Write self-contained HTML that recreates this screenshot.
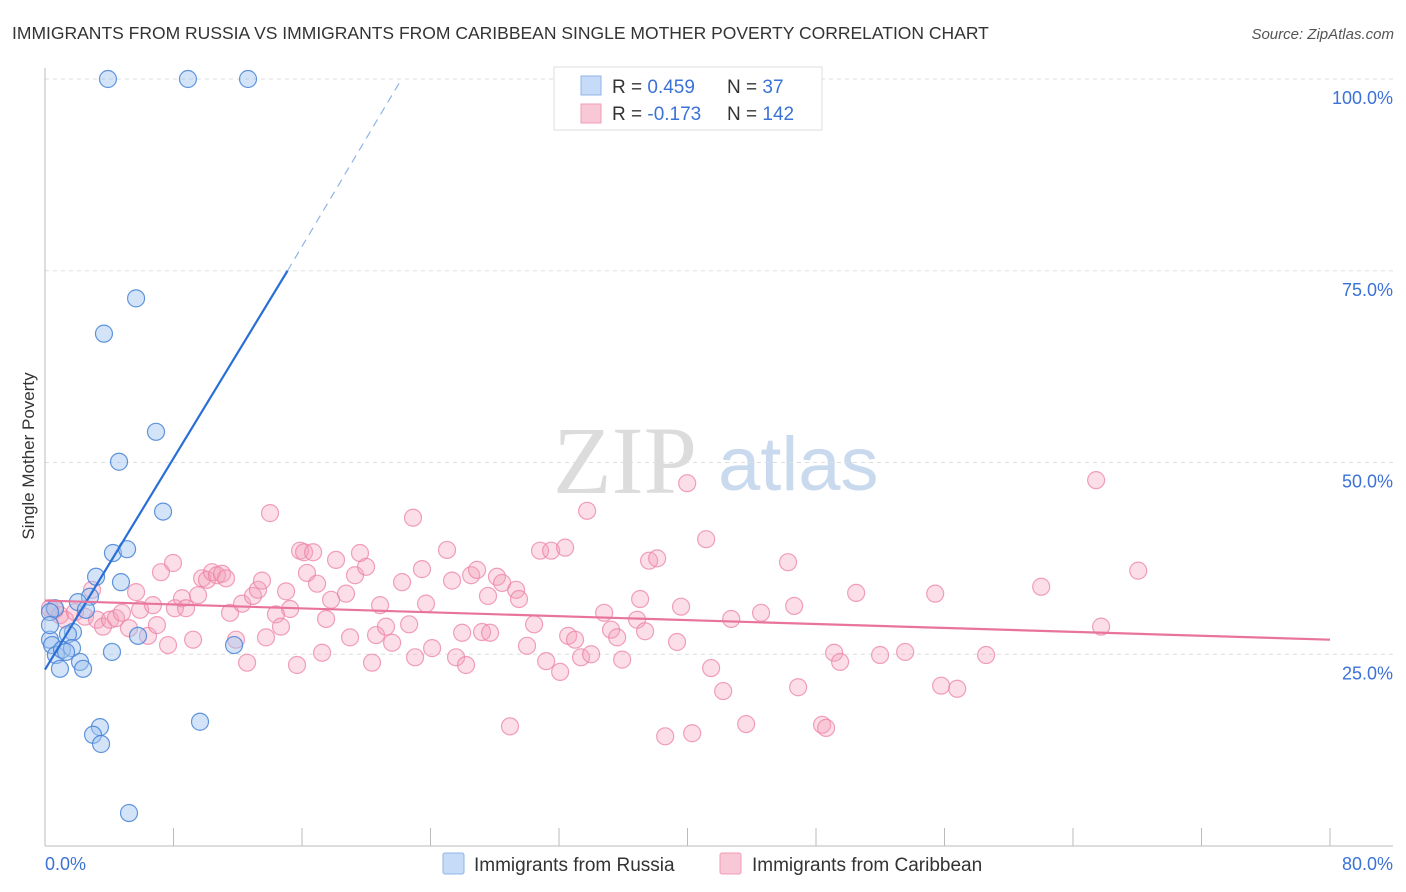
<!DOCTYPE html>
<html><head><meta charset="utf-8">
<style>
body{margin:0;background:#fff;font-family:"Liberation Sans",sans-serif;}
#wrap{position:relative;width:1406px;height:892px;overflow:hidden}
</style></head>
<body>
<div id="wrap">
<svg id="chart" width="1406" height="892" xmlns="http://www.w3.org/2000/svg">
  <text x="12" y="39" font-size="17.5" fill="#333">IMMIGRANTS FROM RUSSIA VS IMMIGRANTS FROM CARIBBEAN SINGLE MOTHER POVERTY CORRELATION CHART</text>
  <text x="1394" y="39" font-size="15" fill="#555" font-style="italic" text-anchor="end">Source: ZipAtlas.com</text>
  <text x="34" y="456" font-size="17" fill="#333" text-anchor="middle" transform="rotate(-90 34 456)">Single Mother Poverty</text>
  <g>
    <text x="553" y="493" font-size="96" font-family="Liberation Serif,serif" fill="#dcdcdc">ZIP</text>
    <text x="718" y="490" font-size="76" fill="#c9d9ee">atlas</text>
  </g>
  <g id="grid"></g>
  <g id="axes"></g>
  <g id="marks"></g>
  <g id="trends"></g>
  <g>
    <rect x="554" y="67" width="268" height="63" fill="#fff" stroke="#ddd"/>
    <rect x="581" y="76" width="20" height="19" fill="#c5dbf7" stroke="#8fb4e8"/>
    <rect x="581" y="104" width="20" height="19" fill="#f9c8d6" stroke="#ef9cb6"/>
    <text x="612" y="93" font-size="19" fill="#333">R = <tspan fill="#3b72d6"> 0.459</tspan></text>
    <text x="727" y="93" font-size="19" fill="#333">N = <tspan fill="#3b72d6">  37</tspan></text>
    <text x="612" y="120" font-size="19" fill="#333">R = <tspan fill="#3b72d6">-0.173</tspan></text>
    <text x="727" y="120" font-size="19" fill="#333">N = <tspan fill="#3b72d6">142</tspan></text>
  </g>
  <g>
    <rect x="443" y="853" width="21" height="21" fill="#c5dbf7" stroke="#8fb4e8" rx="2"/>
    <text x="474" y="871" font-size="19" fill="#333">Immigrants from Russia</text>
    <rect x="720" y="853" width="21" height="21" fill="#f9c8d6" stroke="#ef9cb6" rx="2"/>
    <text x="752" y="871" font-size="19" fill="#333">Immigrants from Caribbean</text>
  </g>
</svg>
</div>
<script>
const russiaX=[3.92,8.90,12.64,5.67,3.67,6.91,4.61,7.35,4.23,5.11,3.18,4.73,2.80,2.05,2.55,0.62,0.31,1.74,1.43,0.31,0.44,0.68,1.06,1.68,1.31,2.18,0.93,2.37,4.17,5.79,11.77,9.65,3.42,2.99,3.49,5.23,0.31];
const russiaY=[100,100,100,71.4,66.8,54.0,50.1,43.6,38.2,38.7,35.1,34.4,32.5,31.8,30.8,31.0,30.5,27.9,27.6,26.9,26.2,24.9,25.6,25.8,25.3,24.0,23.1,23.1,25.3,27.4,26.2,16.2,15.5,14.5,13.3,4.3,28.8];
const caribX=[0.31,0.62,0.93,1.25,1.87,2.49,2.93,3.24,3.61,4.05,4.42,4.79,5.23,5.67,5.92,6.41,6.72,6.97,7.22,7.66,7.97,8.09,8.53,8.78,9.22,9.53,9.78,10.09,10.40,10.71,11.02,11.27,11.52,11.89,12.27,12.58,12.95,13.26,13.51,13.76,14.01,14.38,14.69,15.01,15.26,15.69,15.88,16.13,16.31,16.69,16.94,17.25,17.50,17.81,18.12,18.74,18.99,19.30,19.61,19.99,20.36,20.61,20.86,21.23,21.61,22.23,22.67,22.91,23.04,23.47,23.72,24.10,25.03,25.34,25.59,25.97,26.21,26.53,26.90,27.21,27.58,27.71,28.14,28.46,28.95,29.33,29.51,30.01,30.45,30.82,31.20,31.51,32.07,32.38,32.57,33.00,33.37,33.75,34.00,34.81,35.24,35.62,35.93,36.86,37.05,37.36,37.61,38.11,38.61,39.35,39.60,39.98,40.29,41.16,41.47,42.22,42.72,43.65,44.58,46.26,46.64,46.89,48.38,48.63,49.13,49.50,50.50,51.99,53.55,55.42,55.79,56.79,58.59,62.02,65.44,65.75,68.06];
const caribY=[31.0,30.8,30.1,29.5,30.5,29.9,33.4,29.5,28.6,29.5,29.7,30.4,28.4,33.1,30.8,27.4,31.4,28.8,35.7,26.2,36.9,31.0,32.3,31.0,26.9,32.7,34.9,34.7,35.7,35.3,35.5,34.9,30.4,26.9,31.6,23.9,32.6,33.4,34.6,27.2,43.4,30.2,28.6,33.2,30.9,23.6,38.5,38.3,35.6,38.3,34.2,25.2,29.6,32.1,37.3,32.9,27.2,35.3,38.2,36.4,23.9,27.5,31.4,28.6,26.5,34.4,28.9,42.8,24.6,36.1,31.6,25.8,38.6,34.6,24.6,27.8,23.6,35.3,36.0,27.9,32.6,27.8,35.1,34.3,15.6,33.4,32.2,26.1,28.9,38.5,24.1,38.5,22.7,38.9,27.4,26.9,24.6,43.7,25.0,30.4,28.2,27.2,24.3,29.5,32.2,28.0,37.2,37.5,14.3,26.6,31.2,47.3,14.7,40.0,23.2,20.2,29.6,15.9,30.4,37.0,31.3,20.7,15.8,15.4,25.2,24.0,33.0,24.9,25.3,32.9,20.9,20.5,24.9,33.8,47.7,28.6,35.9];
const yTicks=[25,50,75,100];
const yTickLabels=["25.0%","50.0%","75.0%","100.0%"];
const xTicks=[0,8,16,24,32,40,48,56,64,72,80];
const russiaTrend=[[0,23.0],[15.1,75.0],[22.2,100]];
const caribTrend=[[0,32.0],[80,26.9]];

const NS="http://www.w3.org/2000/svg";
const X0=45,X1=1330,Y0=846,Y100=79;
function sx(v){return X0+(X1-X0)*v/80;}
function sy(v){return Y0-(Y0-Y100)*v/100;}
function mk(tag,attrs,parent){const e=document.createElementNS(NS,tag);for(const k in attrs)e.setAttribute(k,attrs[k]);parent.appendChild(e);return e;}
const grid=document.getElementById('grid'),axes=document.getElementById('axes'),marks=document.getElementById('marks'),trends=document.getElementById('trends');
yTicks.forEach((t,i)=>{
  const l=mk('line',{x1:X0,x2:1393,y1:sy(t),y2:sy(t),stroke:'#ddd','stroke-dasharray':'4,4'},grid);
  
  
  const tx=mk('text',{x:1393,y:sy(t)+25,'font-size':18,fill:'#3b72d6','text-anchor':'end'},axes);
  tx.textContent=yTickLabels[i];
  
  
});
const ya=mk('line',{x1:X0,x2:X0,y1:68,y2:Y0,stroke:'#bbb'},axes);


const xa=mk('line',{x1:X0,x2:1393,y1:Y0,y2:Y0,stroke:'#bbb'},axes);


xTicks.forEach(t=>{
  const l=mk('line',{x1:sx(t),x2:sx(t),y1:828,y2:Y0,stroke:'#bbb'},axes);
  
  
});
const xl0=mk('text',{x:45,y:870,'font-size':18,fill:'#3b72d6'},axes);xl0.textContent='0.0%';


const xl1=mk('text',{x:1393,y:870,'font-size':18,fill:'#3b72d6','text-anchor':'end'},axes);xl1.textContent='80.0%';


caribX.forEach((v,i)=>{
  const c=mk('circle',{cx:sx(v),cy:sy(caribY[i]),r:8.5,fill:'rgba(244,160,187,0.35)',stroke:'rgba(236,130,165,0.75)','stroke-width':1.2},marks);
  
  
});
russiaX.forEach((v,i)=>{
  const c=mk('circle',{cx:sx(v),cy:sy(russiaY[i]),r:8.5,fill:'rgba(160,196,240,0.45)',stroke:'rgba(70,130,215,0.85)','stroke-width':1.2},marks);
  
  
});
const rt=mk('line',{x1:sx(russiaTrend[0][0]),y1:sy(russiaTrend[0][1]),x2:sx(russiaTrend[1][0]),y2:sy(russiaTrend[1][1]),stroke:'#2a6fd6','stroke-width':2.2},trends);


const rd=mk('line',{x1:sx(russiaTrend[1][0]),y1:sy(russiaTrend[1][1]),x2:sx(russiaTrend[2][0]),y2:sy(russiaTrend[2][1]),stroke:'#8fb4e8','stroke-width':1.2,'stroke-dasharray':'8,6'},trends);


const ct=mk('line',{x1:sx(caribTrend[0][0]),y1:sy(caribTrend[0][1]),x2:sx(caribTrend[1][0]),y2:sy(caribTrend[1][1]),stroke:'#e8739b','stroke-width':2.2},trends);


</script>
</body></html>
